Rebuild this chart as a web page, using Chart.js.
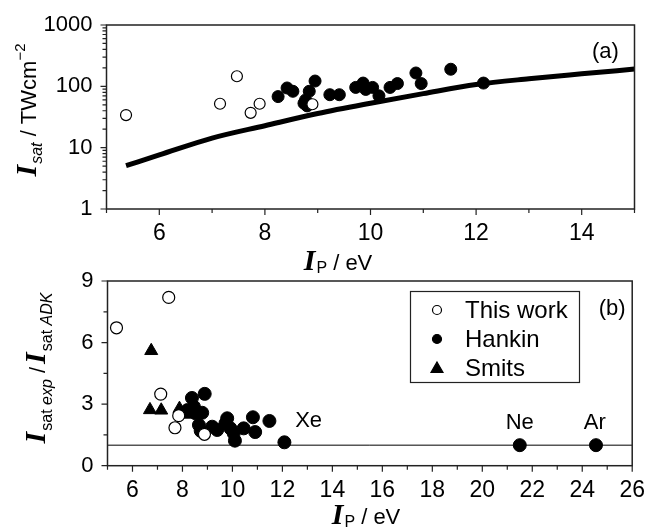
<!DOCTYPE html>
<html>
<head>
<meta charset="utf-8">
<script src="https://cdn.jsdelivr.net/npm/chart.js@4.4.1/dist/chart.umd.min.js"></script>
<style>
html, body { margin: 0; padding: 0; background: #fff; }
#wrap { position: relative; width: 650px; height: 529px; overflow: hidden; }
canvas { position: absolute; left: 0; top: 0; }
</style>
</head>
<body>
<div id="wrap">
<canvas id="chartA" width="650" height="529"></canvas>
<canvas id="chartB" width="650" height="529"></canvas>
</div>
<script>
// panel (a): saturation intensity (TW/cm2) vs ionization potential (eV)
const thisWorkIpA = [5.37, 7.15, 7.47, 7.73, 7.9, 8.9];
const thisWorkSatA = [34, 52, 146, 37, 52, 51];
const hankinIpA = [8.25, 8.42, 8.53, 8.74, 8.77, 8.8, 8.84, 8.95, 9.23, 9.41, 9.72, 9.86, 9.91, 10.04, 10.16, 10.37, 10.51, 10.86, 10.96, 11.52, 12.14];
const hankinSatA = [68, 94, 83, 53, 60, 48, 83, 122, 73, 73, 96, 113, 89, 96, 70, 96, 111, 165, 111, 190, 113];
const adkIp = [5.37, 6, 7, 8, 9, 10, 11, 12, 13, 14, 15];
const adkSat = [5.1, 7.6, 14.3, 22.8, 36, 53, 76, 107, 133, 160, 191];

// panel (b): ratio Isat(exp) / Isat(ADK)
const thisWorkIpB = [5.36, 7.13, 7.45, 7.7, 7.85, 8.88];
const thisWorkRatioB = [6.72, 3.49, 8.2, 1.85, 2.44, 1.53];
const hankinIpB = [8.2, 8.38, 8.46, 8.53, 8.66, 8.73, 8.79, 8.89, 9.19, 9.39, 9.72, 9.79, 9.92, 10.05, 10.1, 10.45, 10.82, 10.91, 11.48, 12.08, 21.5, 24.55];
const hankinRatioB = [2.71, 3.3, 2.87, 2.55, 1.98, 1.7, 2.58, 3.5, 1.9, 1.74, 2.06, 2.31, 1.82, 1.58, 1.22, 1.82, 2.36, 1.64, 2.18, 1.14, 1.0, 1.0];
const smitsIpB = [6.75, 6.7, 7.15, 7.88, 8.22];
const smitsRatioB = [5.6, 2.72, 2.7, 2.78, 2.5];
const unityIp = [5, 26];
const unityRatio = [1, 1];

const xTicksA = [6, 8, 10, 12, 14];
const yTicksA = [1, 10, 100, 1000];
const xTicksB = [6, 8, 10, 12, 14, 16, 18, 20, 22, 24, 26];
const yTicksB = [0, 3, 6, 9];
const seriesNames = ['This work', 'Hankin', 'Smits'];

const SANS = '"Liberation Sans", Arial, sans-serif';
const SERIF = '"Liberation Serif", "Times New Roman", serif';
const BIG_I = 'italic bold 30px ' + SERIF;

function pts(xs, ys) {
    return xs.map(function (x, i) { return { x: x, y: ys[i] }; });
}

function drawRich(ctx, parts, x, y, angle) {
    ctx.save();
    ctx.translate(x, y);
    ctx.rotate(angle);
    let total = 0;
    parts.forEach(function (p) {
        ctx.font = p.font;
        p.w = ctx.measureText(p.text).width;
        total += p.w + (p.gap || 0);
    });
    let cx = -total / 2;
    ctx.fillStyle = '#000';
    ctx.textAlign = 'left';
    ctx.textBaseline = 'alphabetic';
    parts.forEach(function (p) {
        ctx.font = p.font;
        ctx.fillText(p.text, cx, p.dy || 0);
        cx += p.w + (p.gap || 0);
    });
    ctx.restore();
}

// box round the plot and outward tick marks, long on labelled ticks
const frameTicks = {
    id: 'frameTicks',
    afterDraw: function (chart) {
        const ctx = chart.ctx;
        const a = chart.chartArea;
        ctx.save();
        ctx.strokeStyle = '#222';
        ctx.lineWidth = 1.5;
        ctx.strokeRect(a.left, a.top, a.right - a.left, a.bottom - a.top);
        ctx.lineWidth = 1.2;
        ctx.beginPath();
        chart.scales.x.ticks.forEach(function (t) {
            const px = chart.scales.x.getPixelForValue(t.value);
            const len = t.label !== '' ? 6 : 4;
            ctx.moveTo(px, a.bottom);
            ctx.lineTo(px, a.bottom + len);
        });
        chart.scales.y.ticks.forEach(function (t) {
            const py = chart.scales.y.getPixelForValue(t.value);
            const len = t.label !== '' ? 6 : 4;
            ctx.moveTo(a.left, py);
            ctx.lineTo(a.left - len, py);
        });
        ctx.stroke();
        ctx.restore();
    }
};

function axisBase(min, max, labels, step, size) {
    return {
        type: 'linear',
        min: min,
        max: max,
        grid: { display: true, drawOnChartArea: false, drawTicks: true, tickLength: 6, tickColor: 'rgba(0,0,0,0)' },
        border: { display: false },
        ticks: {
            stepSize: step,
            autoSkip: false,
            maxRotation: 0,
            color: '#000',
            font: { family: SANS, size: size },
            padding: 5,
            callback: function (v) { return labels.indexOf(v) >= 0 ? String(v) : ''; }
        }
    };
}

// ---------- panel (a) ----------
const xA = axisBase(5, 15, xTicksA, 1, 23);
xA.afterFit = function (s) { s.height = 51; };
const yA = axisBase(1, 1000, yTicksA, undefined, 22);
yA.type = 'logarithmic';
yA.ticks.padding = 8;
yA.afterFit = function (s) { s.width = 106.5; };
yA.afterBuildTicks = function (s) {
    const t = [];
    for (let e = 0; e < 3; e++) {
        for (let d = 1; d < 10; d++) t.push({ value: d * Math.pow(10, e) });
    }
    t.push({ value: 1000 });
    s.ticks = t;
};

const textA = {
    id: 'textA',
    afterDraw: function (chart) {
        const ctx = chart.ctx;
        const sx = chart.scales.x, sy = chart.scales.y;
        ctx.save();
        ctx.fillStyle = '#000';
        ctx.font = '22px ' + SANS;
        ctx.textAlign = 'center';
        ctx.textBaseline = 'middle';
        ctx.fillText('(a)', sx.getPixelForValue(14.45), sy.getPixelForValue(360));
        ctx.restore();
        drawRich(ctx, [
            { text: 'I', font: BIG_I, gap: 1 },
            { text: 'P', font: '16px ' + SANS, dy: 3 },
            { text: ' / eV', font: '22px ' + SANS }
        ], 338, 270, 0);
        drawRich(ctx, [
            { text: 'I', font: BIG_I, gap: 1 },
            { text: 'sat', font: 'italic 16px ' + SANS, dy: 6 },
            { text: ' / TWcm', font: '22px ' + SANS },
            { text: '\u22122', font: '15px ' + SANS, dy: -11 }
        ], 36, 110, -Math.PI / 2);
    }
};

new Chart(document.getElementById('chartA'), {
    type: 'scatter',
    data: {
        datasets: [{
            label: seriesNames[0],
            data: pts(thisWorkIpA, thisWorkSatA),
            pointStyle: 'circle',
            pointRadius: 5.5,
            backgroundColor: '#fff',
            borderColor: '#000',
            borderWidth: 1.2,
            order: 0
        }, {
            label: seriesNames[1],
            data: pts(hankinIpA, hankinSatA),
            pointStyle: 'circle',
            pointRadius: 6,
            backgroundColor: '#000',
            borderColor: '#000',
            borderWidth: 1,
            order: 1
        }, {
            label: 'ADK',
            data: pts(adkIp, adkSat),
            showLine: true,
            pointRadius: 0,
            borderColor: '#000',
            borderWidth: 5,
            cubicInterpolationMode: 'monotone',
            order: 3
        }]
    },
    options: {
        responsive: false,
        animation: false,
        devicePixelRatio: 1,
        layout: { padding: { top: 25, right: 15.5, bottom: 269, left: 0 } },
        plugins: { legend: { display: false }, tooltip: { enabled: false }, title: { display: false } },
        scales: { x: xA, y: yA }
    },
    plugins: [frameTicks, textA]
});

// ---------- panel (b) ----------
const xB = axisBase(5, 26, xTicksB, 1, 23);
xB.afterFit = function (s) { s.height = 63.3; };
const yB = axisBase(0, 9, yTicksB, 1.5, 22);
yB.ticks.padding = 8;
yB.afterFit = function (s) { s.width = 107.5; };

const textB = {
    id: 'textB',
    afterDraw: function (chart) {
        const ctx = chart.ctx;
        const sx = chart.scales.x, sy = chart.scales.y;
        ctx.save();
        ctx.fillStyle = '#000';
        ctx.font = '22px ' + SANS;
        ctx.textAlign = 'center';
        ctx.textBaseline = 'middle';
        ctx.fillText('(b)', sx.getPixelForValue(25.2), sy.getPixelForValue(7.63));
        ctx.fillText('Xe', sx.getPixelForValue(13.05), sy.getPixelForValue(2.19));
        ctx.fillText('Ne', sx.getPixelForValue(21.5), sy.getPixelForValue(2.09));
        ctx.fillText('Ar', sx.getPixelForValue(24.5), sy.getPixelForValue(2.09));

        // legend box
        ctx.strokeStyle = '#222';
        ctx.lineWidth = 1.2;
        ctx.strokeRect(410.5, 291.5, 169, 91);
        ctx.font = '24px ' + SANS;
        ctx.textAlign = 'left';
        const rows = [310, 339, 368];
        const ds = chart.data.datasets;
        rows.forEach(function (ry, i) {
            const d = ds[i];
            ctx.fillStyle = d.backgroundColor;
            ctx.strokeStyle = '#000';
            ctx.lineWidth = 1.2;
            ctx.beginPath();
            if (d.pointStyle === 'triangle') {
                ctx.moveTo(437, ry - 6);
                ctx.lineTo(443, ry + 4.5);
                ctx.lineTo(431, ry + 4.5);
                ctx.closePath();
            } else {
                ctx.arc(437, ry, 4.5, 0, Math.PI * 2);
            }
            ctx.fill();
            ctx.stroke();
            ctx.fillStyle = '#000';
            ctx.fillText(d.label, 465, ry + 1);
        });
        ctx.restore();

        drawRich(ctx, [
            { text: 'I', font: BIG_I, gap: 1 },
            { text: 'P', font: '16px ' + SANS, dy: 3 },
            { text: ' / eV', font: '22px ' + SANS }
        ], 366, 524, 0);
        drawRich(ctx, [
            { text: 'I', font: BIG_I, gap: 1 },
            { text: 'sat ', font: '16px ' + SANS, dy: 7 },
            { text: 'exp', font: 'italic 16px ' + SANS, dy: 7 },
            { text: ' /', font: '22px ' + SANS, gap: 3 },
            { text: 'I', font: BIG_I, gap: 1 },
            { text: 'sat ', font: '16px ' + SANS, dy: 7 },
            { text: 'ADK', font: 'italic 16px ' + SANS, dy: 7 }
        ], 45, 368, -Math.PI / 2);
    }
};

new Chart(document.getElementById('chartB'), {
    type: 'scatter',
    data: {
        datasets: [{
            label: seriesNames[0],
            data: pts(thisWorkIpB, thisWorkRatioB),
            pointStyle: 'circle',
            pointRadius: 6,
            backgroundColor: '#fff',
            borderColor: '#000',
            borderWidth: 1.2,
            order: 0
        }, {
            label: seriesNames[1],
            data: pts(hankinIpB, hankinRatioB),
            pointStyle: 'circle',
            pointRadius: 6.5,
            backgroundColor: '#000',
            borderColor: '#000',
            borderWidth: 1,
            order: 2
        }, {
            label: seriesNames[2],
            data: pts(smitsIpB, smitsRatioB),
            pointStyle: 'triangle',
            pointRadius: 7.5,
            backgroundColor: '#000',
            borderColor: '#000',
            borderWidth: 1,
            order: 1
        }, {
            label: 'unity',
            data: pts(unityIp, unityRatio),
            showLine: true,
            pointRadius: 0,
            borderColor: '#000',
            borderWidth: 1,
            order: 3
        }]
    },
    options: {
        responsive: false,
        animation: false,
        devicePixelRatio: 1,
        layout: { padding: { top: 281, right: 15, bottom: 0, left: 0 } },
        plugins: { legend: { display: false }, tooltip: { enabled: false }, title: { display: false } },
        scales: { x: xB, y: yB }
    },
    plugins: [frameTicks, textB]
});
</script>
</body>
</html>
